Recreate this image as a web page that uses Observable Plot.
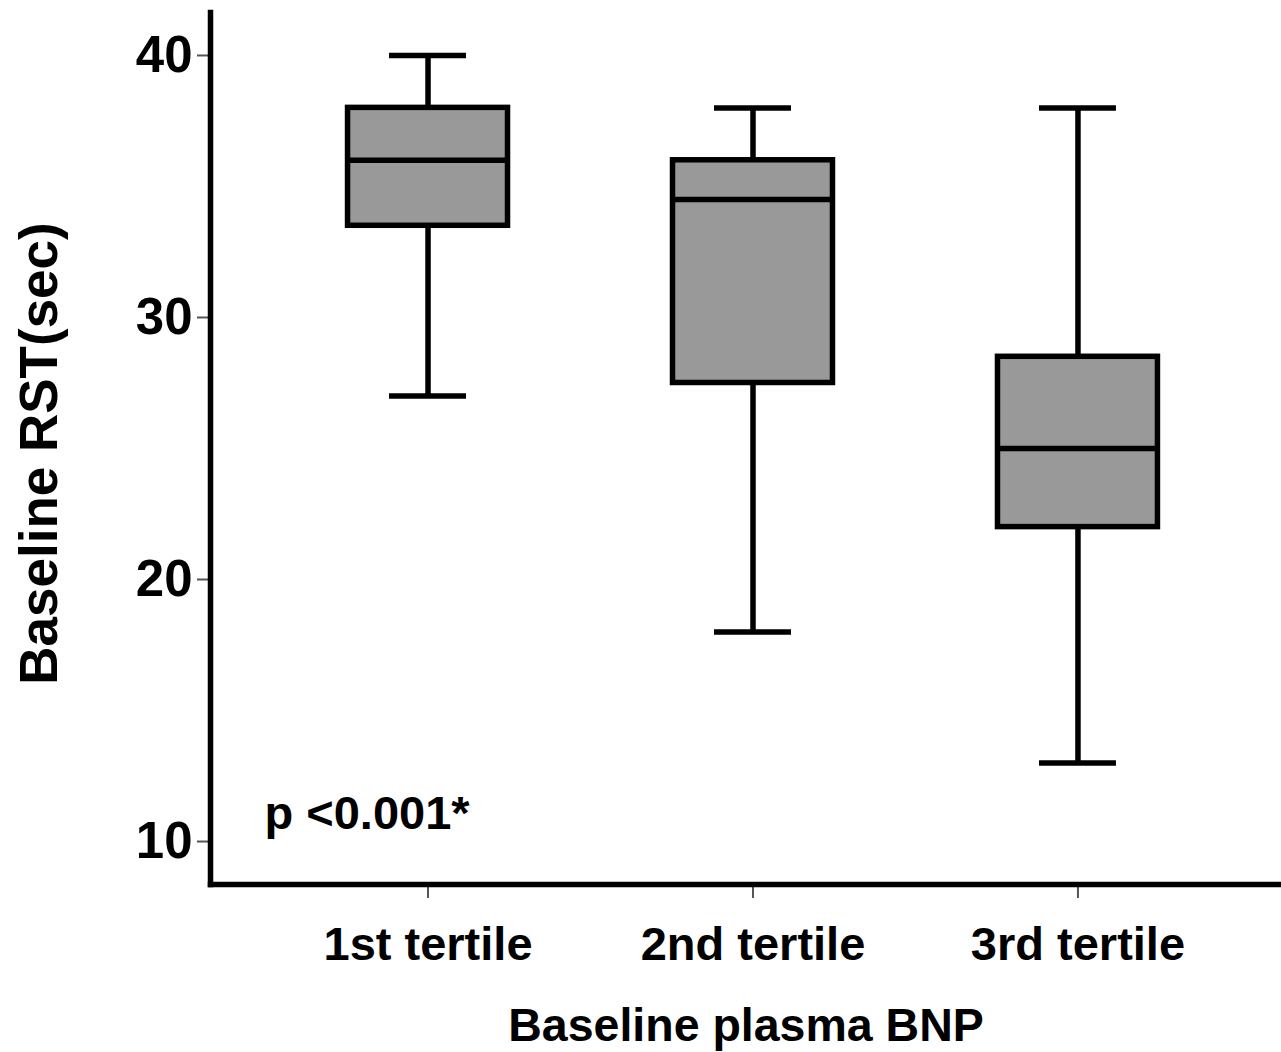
<!DOCTYPE html>
<html>
<head>
<meta charset="utf-8">
<script src="https://cdn.jsdelivr.net/npm/d3@7"></script>
<script src="https://cdn.jsdelivr.net/npm/@observablehq/plot@0.6"></script>
<style>
  body { margin: 0; background: #fff; }
  #chart svg { display: block; }
</style>
</head>
<body>
<div id="chart"></div>
<script>
// Baseline RST by baseline plasma BNP tertile (box summaries)
const tertiles    = ["1st tertile", "2nd tertile", "3rd tertile"];
const whiskerLow  = [27, 18, 13];
const quartile1   = [33.5, 27.5, 22];
const medians     = [36, 34.5, 25];
const quartile3   = [38, 36, 28.5];
const whiskerHigh = [40, 38, 38];
const yTicks      = [10, 20, 30, 40];
const pLabel      = "p <0.001*";
const xTitle      = "Baseline plasma BNP";
const yTitle      = "Baseline RST(sec)";

const rows = tertiles.map((t, i) => ({
  tertile: t,
  low: whiskerLow[i],
  q1: quartile1[i],
  median: medians[i],
  q3: quartile3[i],
  high: whiskerHigh[i]
}));

const font = "'Liberation Sans', Arial, Helvetica, sans-serif";
const lw = 5.5;

const chart = Plot.plot({
  width: 1281,
  height: 1052,
  marginLeft: 210,
  marginRight: 0,
  marginTop: 12,
  marginBottom: 168,
  style: { fontFamily: font, background: "#fff", color: "#000", overflow: "visible" },
  x: {
    domain: tertiles,
    paddingInner: 0.5077,
    paddingOuter: 0.4017,
    align: 0.5268,
    round: false
  },
  y: { domain: [8.36, 41.64] },
  marks: [
    // whiskers
    Plot.ruleX(rows, { x: "tertile", y1: "low", y2: "q1", stroke: "#000", strokeWidth: lw }),
    Plot.ruleX(rows, { x: "tertile", y1: "q3", y2: "high", stroke: "#000", strokeWidth: lw }),
    // whisker caps
    Plot.tickY(rows, { x: "tertile", y: "low", stroke: "#000", strokeWidth: lw, insetLeft: 41.5, insetRight: 41.5 }),
    Plot.tickY(rows, { x: "tertile", y: "high", stroke: "#000", strokeWidth: lw, insetLeft: 41.5, insetRight: 41.5 }),
    // boxes
    Plot.barY(rows, { x: "tertile", y1: "q1", y2: "q3", fill: "#999999", stroke: "#000", strokeWidth: lw }),
    // medians
    Plot.tickY(rows, { x: "tertile", y: "median", stroke: "#000", strokeWidth: lw }),
    // axes
    Plot.axisY({
      ticks: yTicks, tickSize: 13, tickPadding: 5, label: null,
      fontSize: 51, fontWeight: "bold", stroke: "#555", strokeWidth: 2, fill: "#000"
    }),
    Plot.axisX({
      tickSize: 14, tickPadding: 28, label: null,
      fontSize: 47, fontWeight: "bold", stroke: "#555", strokeWidth: 2, fill: "#000"
    }),
    Plot.frame({ anchor: "left", stroke: "#000", strokeWidth: lw, strokeLinecap: "square" }),
    Plot.frame({ anchor: "bottom", stroke: "#000", strokeWidth: lw, strokeLinecap: "square" }),
    // titles and annotation
    Plot.text([xTitle], {
      frameAnchor: "bottom", lineAnchor: "bottom", dy: 156,
      fontSize: 46.5, fontWeight: "bold", fill: "#000"
    }),
    Plot.text([yTitle], {
      frameAnchor: "left", rotate: -90, textAnchor: "middle", lineAnchor: "middle",
      dx: -170, dy: 5, fontSize: 53, fontWeight: "bold", fill: "#000"
    }),
    Plot.text([pLabel], {
      frameAnchor: "bottom-left", textAnchor: "start", lineAnchor: "bottom",
      dx: 54, dy: -56, fontSize: 47, fontWeight: "bold", fill: "#000"
    })
  ]
});

document.getElementById("chart").appendChild(chart);
</script>
</body>
</html>
